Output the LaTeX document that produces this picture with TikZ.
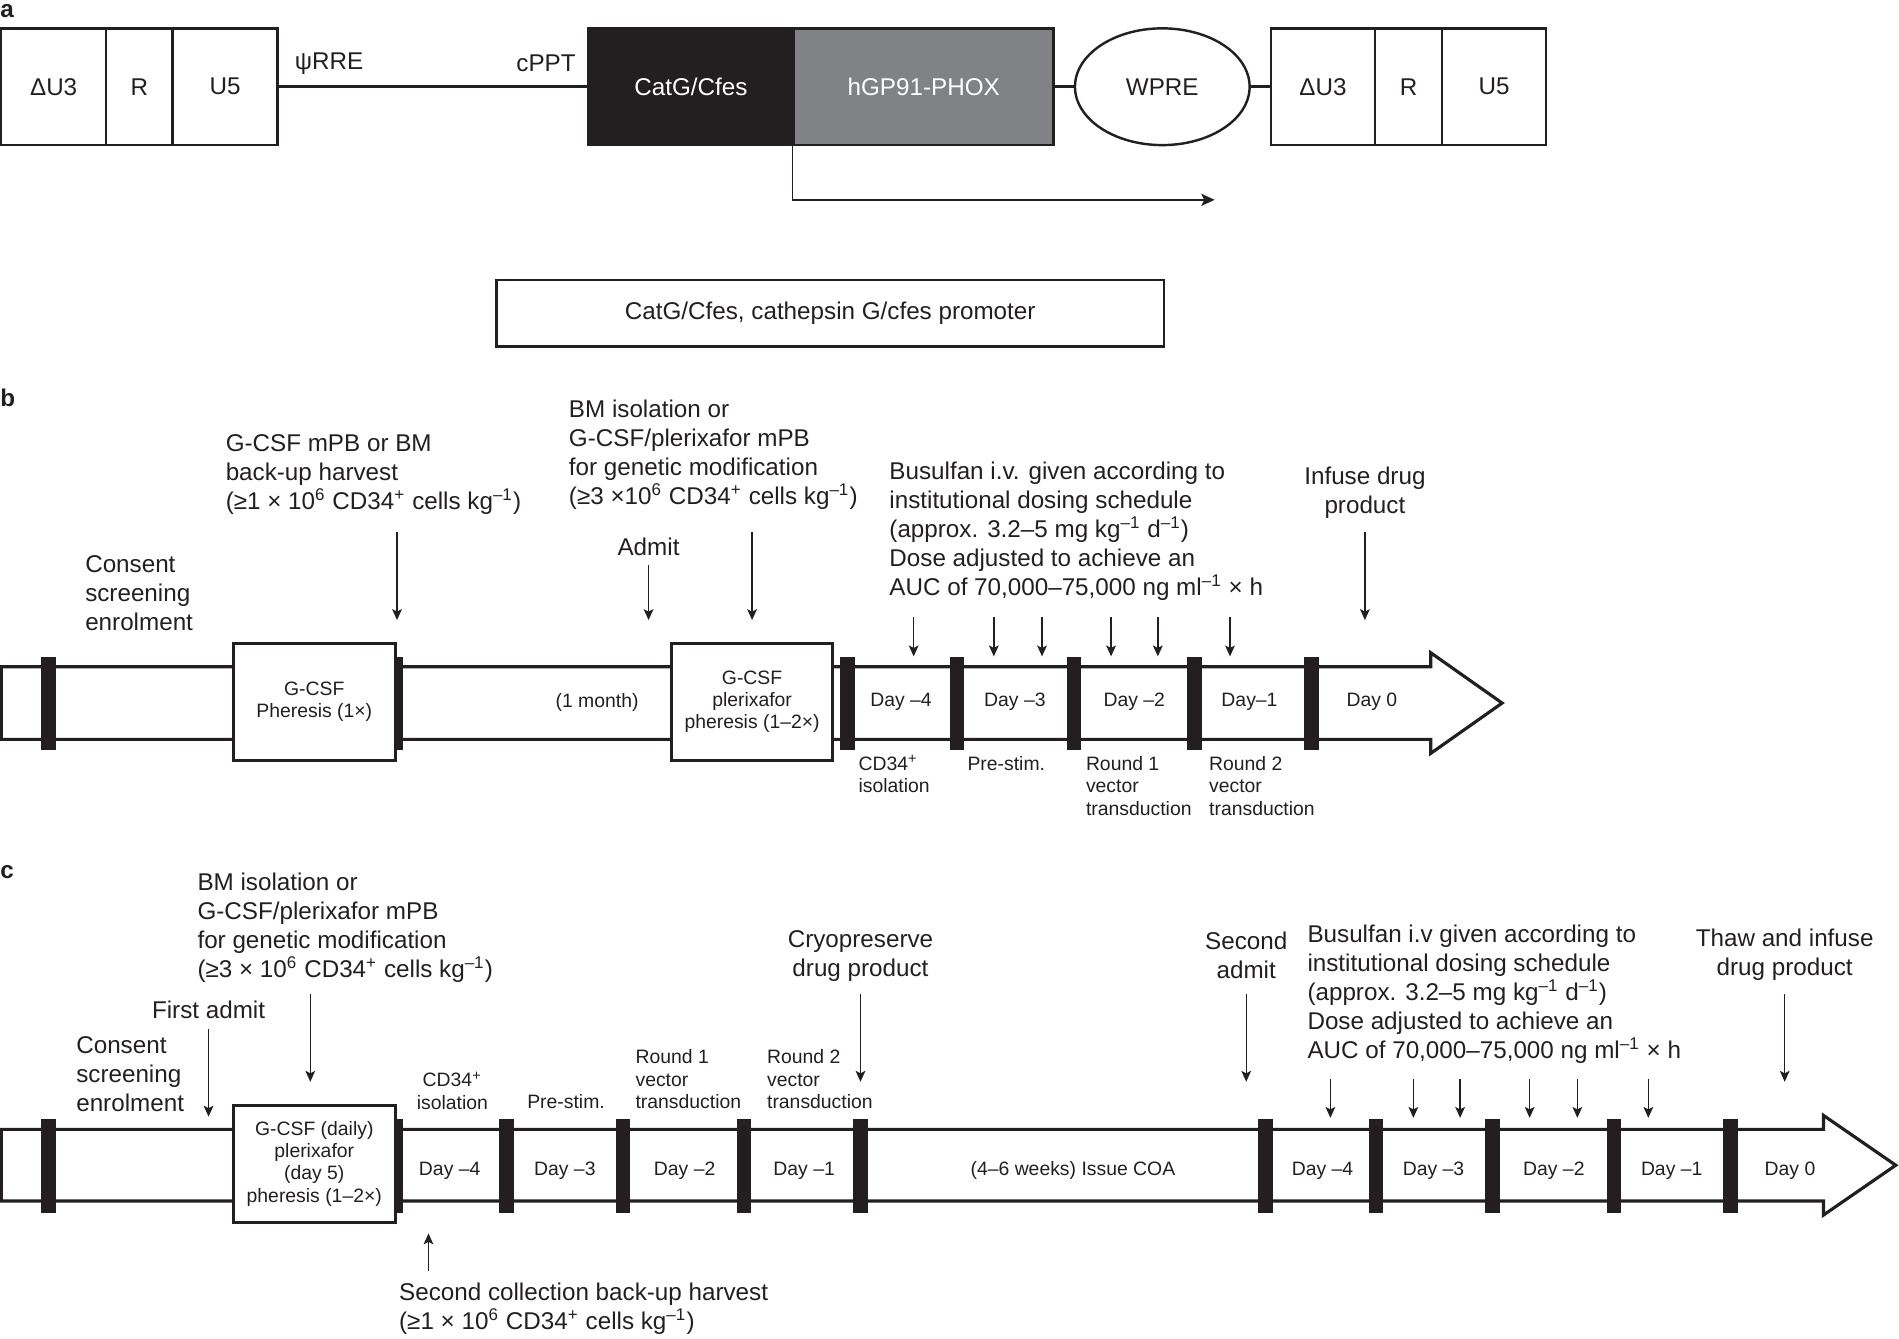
\documentclass[tikz,border=0pt]{standalone}
\usepackage{fontspec}
\setmainfont{Liberation Sans}
\usetikzlibrary{arrows.meta,shapes.geometric}

\definecolor{ink}{RGB}{35,31,32}
\definecolor{hgpgray}{RGB}{128,130,133}

\tikzset{
  lbl/.style={font=\fontsize{10}{12}\selectfont,inner sep=0pt,align=left,text=ink},
  sml/.style={font=\fontsize{8}{9.25}\selectfont,inner sep=0pt,align=left,text=ink},
  panel/.style={font=\fontsize{10}{12}\selectfont\bfseries,inner sep=0pt,anchor=base west,text=ink},
  seg/.style={draw=ink,line width=1pt,minimum height=48.2pt,inner sep=0pt,text=ink,font=\fontsize{10}{12}\selectfont},
  tbox/.style={draw=ink,line width=1.2pt,fill=white,minimum width=66.8pt,minimum height=48.2pt,inner sep=0pt,align=center,text=ink,font=\fontsize{8}{9.25}\selectfont},
  tline/.style={draw=ink,line width=1.3pt,fill=white,line join=miter},
  link/.style={draw=ink,line width=1.1pt},
  arr/.style={draw=ink,line width=0.6pt,-{Stealth[length=4.5pt,width=4pt,inset=1pt]}},
  bigarr/.style={draw=ink,line width=0.6pt,-{Stealth[length=5.5pt,width=5pt,inset=1.2pt]}}
}

\begin{document}
\begin{tikzpicture}[x=0.5pt,y=-0.5pt]
            \useasboundingbox (0,0) rectangle (1568,1105);

            \node[panel] (pa) at (0,14.5) {a};
            \node[panel] (pb) at (0,335.8) {b};
            \node[panel] (pc) at (0,725.3) {c};

            \node[seg,minimum width=43.3pt] (du3L) at (44.3,71.6) {ΔU3};
            \node[seg,minimum width=27.5pt] (rL) at (115.1,71.6) {R};
            \node[seg,minimum width=43.2pt] (u5L) at (185.8,71.6) {U5};
            \node[seg,fill=ink,text=white,minimum width=84.9pt] (catg) at (570.5,71.6) {CatG/Cfes};
            \node[seg,fill=hgpgray,text=white,minimum width=107.3pt] (hgp) at (762.7,71.6) {hGP91-PHOX};
            \node[seg,ellipse,minimum width=72.1pt] (wpre) at (959.7,71.6) {WPRE};
            \node[seg,minimum width=42.95pt] (du3R) at (1092.35,71.6) {ΔU3};
            \node[seg,minimum width=27.75pt] (rR) at (1163.05,71.6) {R};
            \node[seg,minimum width=42.95pt] (u5R) at (1233.75,71.6) {U5};

            \draw[link] (u5L.east) -- (catg.west);
            \draw[link] (hgp.east) -- (wpre.west);
            \draw[link] (wpre.east) -- (du3R.west);

            \node[lbl,anchor=west] (psi) at (243,52.3) {ψRRE};
            \node[lbl,anchor=east] (cppt) at (475.7,52.3) {cPPT};

            \coordinate (promEnd) at (1002.9,165);
            \draw[bigarr] (hgp.south west) |- (promEnd);

            \node[draw=ink,line width=1pt,minimum width=275.5pt,minimum height=27.5pt,inner sep=0pt,text=ink,font=\fontsize{10}{12}\selectfont] (key) at (685.5,258.5) {CatG/Cfes, cathepsin G/cfes promoter};

            \draw[tline] (1,550.5) -- (1181.4,550.5) -- (1181.4,539) -- (1240.3,580.5) -- (1181.4,622) -- (1181.4,610.5) -- (1,610.5) -- cycle;
            \foreach \x in {40,327,699.8,790.3,886.8,986.4,1083}
              \fill[ink] (\x-6,542.6) rectangle (\x+6,619.4);

            \node[tbox] (boxB1) at (259.5,579.4) {G-CSF\\Pheresis (1×)};
            \node[tbox,minimum width=66.55pt] (boxB2) at (621,579.4) {G-CSF\\plerixafor\\pheresis (1–2×)};
            \node[sml] (monthB) at (493,579.8) {(1 month)};
            \foreach \x/\t [count=\i] in {744/Day –4,838/Day –3,936.6/Day –2,1031.7/Day–1,1132.8/Day 0}
              \node[sml] (dayB\i) at (\x,579.8) {\t};

            \node[sml,anchor=west] (cdB) at (708.5,639.2) {CD34\textsuperscript{+}\\isolation};
            \node[sml,anchor=west] (preB) at (798.5,630.5) {Pre-stim.};
            \node[sml,anchor=west] (rnd1B) at (896.3,649) {Round 1\\vector\\transduction};
            \node[sml,anchor=west] (rnd2B) at (998,649) {Round 2\\vector\\transduction};

            \node[lbl,anchor=west] (consB) at (70,490) {Consent\\screening\\enrolment};
            \node[lbl,anchor=west] (gcsfB) at (186,391.5) {G-CSF mPB or BM\\back-up harvest\\(≥1 × 10\textsuperscript{6} CD34\textsuperscript{+} cells kg\textsuperscript{–1})};
            \node[lbl,anchor=west] (bmB) at (469.4,375.2) {BM isolation or\\G-CSF/plerixafor mPB\\for genetic modification\\(≥3 ×10\textsuperscript{6} CD34\textsuperscript{+} cells kg\textsuperscript{–1})};
            \node[lbl] (admB) at (535.5,451.4) {Admit};
            \node[lbl,anchor=west] (busB) at (734,438.6) {Busulfan i.v. given according to\\institutional dosing schedule\\(approx. 3.2–5 mg kg\textsuperscript{–1} d\textsuperscript{–1})\\Dose adjusted to achieve an\\AUC of 70,000–75,000 ng ml\textsuperscript{–1} × h};
            \node[lbl,align=center] (infB) at (1127,407) {Infuse drug\\product};

            \foreach \x/\ya [count=\i] in {327.8/439,621/439,535.5/466.5,1127/439}{
              \coordinate (bTop\i) at (\x,\ya);
              \coordinate (bEnd\i) at (\x,512);
              \draw[arr] (bTop\i) -- (bEnd\i);
            }
            \foreach \x [count=\i] in {754.4,820.6,860.4,917.4,956,1015.6}{
              \coordinate (busTopB\i) at (\x,509.7);
              \draw[arr] (busTopB\i) -- ++(0,32.3);
            }

            \draw[tline] (1,932.5) -- (1505.7,932.5) -- (1505.7,921) -- (1565.3,962.1) -- (1505.7,1003.2) -- (1505.7,991.7) -- (1,991.7) -- cycle;
            \foreach \x in {40,327,418.4,514.5,614.5,710.5,1044.9,1136,1232.2,1332.8,1428.9}
              \fill[ink] (\x-6,924.3) rectangle (\x+6,1001.4);

            \node[tbox] (boxC) at (259.5,960.85) {G-CSF (daily)\\plerixafor\\(day 5)\\pheresis (1–2×)};
            \foreach \x/\t [count=\i] in {371.3/Day –4,466.4/Day –3,565.3/Day –2,664/Day –1,885.9/(4–6 weeks) Issue COA,1092/Day –4,1183.6/Day –3,1283/Day –2,1380.3/Day –1,1478/Day 0}
              \node[sml] (dayC\i) at (\x,966.5) {\t};

            \node[sml,align=center] (cdC) at (373.5,900.5) {CD34\textsuperscript{+}\\isolation};
            \node[sml] (preC) at (467.4,909.7) {Pre-stim.};
            \node[sml,anchor=west] (rnd1C) at (524.4,891.2) {Round 1\\vector\\transduction};
            \node[sml,anchor=west] (rnd2C) at (633,891.2) {Round 2\\vector\\transduction};

            \node[lbl,anchor=west] (consC) at (62.6,887) {Consent\\screening\\enrolment};
            \node[lbl] (admC1) at (172.2,834) {First admit};
            \node[lbl,anchor=west] (bmC) at (162.7,765.8) {BM isolation or\\G-CSF/plerixafor mPB\\for genetic modification\\(≥3 × 10\textsuperscript{6} CD34\textsuperscript{+} cells kg\textsuperscript{–1})};
            \node[lbl,align=center] (cryoC) at (710.5,789.3) {Cryopreserve\\drug product};
            \node[lbl,align=center] (admC2) at (1029,788.6) {Second\\admit};
            \node[lbl,anchor=west] (busC) at (1079.2,820.8) {Busulfan i.v given according to\\institutional dosing schedule\\(approx. 3.2–5 mg kg\textsuperscript{–1} d\textsuperscript{–1})\\Dose adjusted to achieve an\\AUC of 70,000–75,000 ng ml\textsuperscript{–1} × h};
            \node[lbl,align=center] (thawC) at (1473.6,788.6) {Thaw and infuse\\drug product};
            \node[lbl,anchor=west] (backC) at (329.2,1080.8) {Second collection back-up harvest\\(≥1 × 10\textsuperscript{6} CD34\textsuperscript{+} cells kg\textsuperscript{–1})};

            \foreach \x/\ya/\yb [count=\i] in {256.2/820.8/893.2,172.2/849.7/922,710.5/820.8/893.2,1029/820.8/893.2,1473.6/820.8/893.2}{
              \coordinate (cTop\i) at (\x,\ya);
              \coordinate (cEnd\i) at (\x,\yb);
              \draw[arr] (cTop\i) -- (cEnd\i);
            }
            \foreach \x [count=\i] in {1098.5,1167,1205.6,1263,1302.4,1361}{
              \coordinate (busTopC\i) at (\x,891.3);
              \draw[arr] (busTopC\i) -- ++(0,31.7);
            }
            \coordinate (upTail) at (353.8,1049.3);
            \coordinate (upTip) at (353.8,1018.4);
            \draw[arr] (upTail) -- (upTip);
\end{tikzpicture}
\end{document}
